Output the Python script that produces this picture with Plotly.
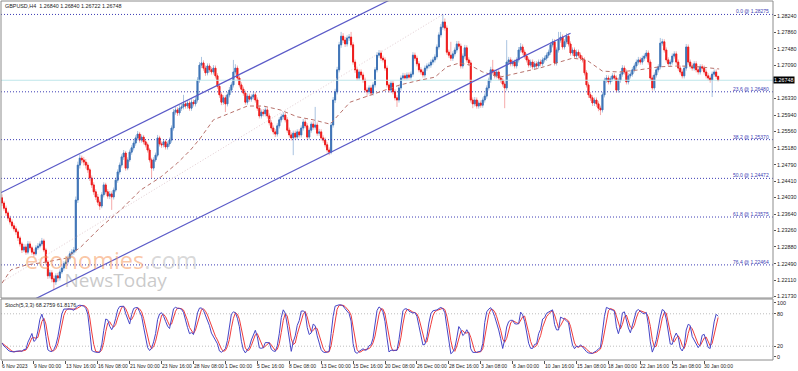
import plotly.graph_objects as go
import pandas as pd

header_text = "GBPUSD,H4  1.26840 1.26840 1.26722 1.26748"
stoch_text = "Stoch(5,3,3) 68.2759 61.8176"

date_labels = ["6 Nov 2023", "9 Nov 00:00", "13 Nov 16:00", "16 Nov 08:00", "21 Nov 00:00",
               "23 Nov 16:00", "28 Nov 08:00", "1 Dec 00:00", "5 Dec 16:00", "8 Dec 08:00",
               "13 Dec 00:00", "15 Dec 16:00", "20 Dec 08:00", "26 Dec 00:00", "28 Dec 16:00",
               "3 Jan 08:00", "8 Jan 00:00", "10 Jan 16:00", "15 Jan 08:00", "18 Jan 00:00",
               "22 Jan 16:00", "25 Jan 08:00", "30 Jan 00:00"]
date_label_bars = [0, 16, 32, 48, 64, 80, 96, 112, 128, 144, 160, 176, 192, 208, 224,
                   240, 256, 272, 288, 304, 320, 336, 352]

first_open = 1.2402
closes = [
    1.2390, 1.2378, 1.2367, 1.2355, 1.2346, 1.2337, 1.2330, 1.2323, 1.2309, 1.2295,
    1.2281, 1.2288, 1.2276, 1.2295, 1.2286, 1.2276, 1.2272, 1.2286, 1.2290, 1.2295,
    1.2302, 1.2281, 1.2253, 1.2221, 1.2228, 1.2214, 1.2207, 1.2221, 1.2216, 1.2230,
    1.2239, 1.2249, 1.2253, 1.2262, 1.2272, 1.2276, 1.2281, 1.2397, 1.2478, 1.2494,
    1.2490, 1.2485, 1.2478, 1.2467, 1.2448, 1.2432, 1.2416, 1.2404, 1.2392, 1.2383,
    1.2409, 1.2432, 1.2416, 1.2406, 1.2411, 1.2404, 1.2420, 1.2443, 1.2462, 1.2478,
    1.2497, 1.2506, 1.2471, 1.2490, 1.2508, 1.2518, 1.2529, 1.2541, 1.2550, 1.2536,
    1.2543, 1.2532, 1.2525, 1.2513, 1.2490, 1.2471, 1.2490, 1.2501, 1.2541, 1.2527,
    1.2525, 1.2532, 1.2520, 1.2527, 1.2536, 1.2564, 1.2601, 1.2606, 1.2599, 1.2610,
    1.2613, 1.2620, 1.2615, 1.2622, 1.2610, 1.2624, 1.2620, 1.2629, 1.2675, 1.2710,
    1.2715, 1.2703, 1.2692, 1.2708, 1.2699, 1.2694, 1.2703, 1.2685, 1.2661, 1.2641,
    1.2624, 1.2634, 1.2620, 1.2641, 1.2652, 1.2664, 1.2694, 1.2703, 1.2680, 1.2664,
    1.2654, 1.2645, 1.2624, 1.2638, 1.2631, 1.2636, 1.2641, 1.2629, 1.2610, 1.2592,
    1.2601, 1.2597, 1.2606, 1.2592, 1.2576, 1.2564, 1.2555, 1.2550, 1.2569, 1.2583,
    1.2590, 1.2594, 1.2583, 1.2559, 1.2548, 1.2541, 1.2552, 1.2543, 1.2555, 1.2548,
    1.2564, 1.2578, 1.2569, 1.2543, 1.2559, 1.2573, 1.2566, 1.2571, 1.2552, 1.2555,
    1.2541, 1.2536, 1.2525, 1.2513, 1.2508, 1.2571, 1.2629, 1.2648, 1.2699, 1.2757,
    1.2777, 1.2768, 1.2759, 1.2773, 1.2775, 1.2757, 1.2717, 1.2699, 1.2680, 1.2694,
    1.2687, 1.2675, 1.2652, 1.2648, 1.2657, 1.2645, 1.2664, 1.2699, 1.2733, 1.2738,
    1.2726, 1.2722, 1.2703, 1.2664, 1.2652, 1.2668, 1.2648, 1.2634, 1.2629, 1.2657,
    1.2680, 1.2685, 1.2680, 1.2687, 1.2682, 1.2689, 1.2733, 1.2726, 1.2713, 1.2699,
    1.2694, 1.2687, 1.2703, 1.2708, 1.2710, 1.2717, 1.2722, 1.2729, 1.2752, 1.2780,
    1.2798, 1.2810, 1.2796, 1.2740, 1.2733, 1.2726, 1.2736, 1.2745, 1.2759, 1.2754,
    1.2708, 1.2731, 1.2750, 1.2722, 1.2715, 1.2629, 1.2620, 1.2629, 1.2615, 1.2622,
    1.2617, 1.2629, 1.2638, 1.2657, 1.2675, 1.2699, 1.2694, 1.2685, 1.2694, 1.2680,
    1.2675, 1.2666, 1.2657, 1.2717, 1.2722, 1.2713, 1.2717, 1.2708, 1.2722, 1.2745,
    1.2752, 1.2740, 1.2731, 1.2722, 1.2710, 1.2717, 1.2706, 1.2713, 1.2708, 1.2717,
    1.2713, 1.2722, 1.2726, 1.2733, 1.2740, 1.2757, 1.2764, 1.2715, 1.2745, 1.2768,
    1.2775, 1.2752, 1.2764, 1.2777, 1.2759, 1.2738, 1.2745, 1.2731, 1.2740, 1.2733,
    1.2726, 1.2722, 1.2692, 1.2664, 1.2641, 1.2634, 1.2622, 1.2629, 1.2620, 1.2610,
    1.2606, 1.2641, 1.2675, 1.2680, 1.2671, 1.2678, 1.2685, 1.2680, 1.2652, 1.2675,
    1.2689, 1.2703, 1.2694, 1.2671, 1.2685, 1.2689, 1.2699, 1.2708, 1.2717, 1.2722,
    1.2717, 1.2726, 1.2731, 1.2738, 1.2717, 1.2680, 1.2657, 1.2687, 1.2699, 1.2706,
    1.2761, 1.2764, 1.2745, 1.2722, 1.2713, 1.2717, 1.2731, 1.2736, 1.2717, 1.2703,
    1.2694, 1.2685, 1.2703, 1.2752, 1.2717, 1.2708, 1.2703, 1.2713, 1.2699, 1.2694,
    1.2706, 1.2703, 1.2694, 1.2685, 1.2680, 1.2675, 1.2689, 1.2694, 1.2684, 1.26748,
]
highs = [
    1.2410, 1.2395, 1.2384, 1.2372, 1.2361, 1.2352, 1.2343, 1.2336, 1.2328, 1.2314,
    1.2300, 1.2295, 1.2294, 1.2302, 1.2301, 1.2291, 1.2283, 1.2292, 1.2297, 1.2301,
    1.2309, 1.2307, 1.2286, 1.2258, 1.2235, 1.2234, 1.2222, 1.2227, 1.2228, 1.2236,
    1.2245, 1.2255, 1.2259, 1.2268, 1.2278, 1.2283, 1.2288, 1.2405, 1.2486, 1.2503,
    1.2500, 1.2497, 1.2492, 1.2484, 1.2472, 1.2454, 1.2438, 1.2422, 1.2411, 1.2398,
    1.2415, 1.2438, 1.2437, 1.2422, 1.2418, 1.2417, 1.2426, 1.2449, 1.2468, 1.2484,
    1.2503, 1.2513, 1.2511, 1.2496, 1.2514, 1.2524, 1.2535, 1.2547, 1.2557, 1.2555,
    1.2549, 1.2548, 1.2538, 1.2530, 1.2518, 1.2495, 1.2496, 1.2507, 1.2548, 1.2546,
    1.2533, 1.2538, 1.2537, 1.2533, 1.2542, 1.2570, 1.2608, 1.2613, 1.2612, 1.2617,
    1.2620, 1.2641, 1.2626, 1.2629, 1.2628, 1.2631, 1.2630, 1.2636, 1.2682, 1.2717,
    1.2729, 1.2721, 1.2709, 1.2714, 1.2714, 1.2705, 1.2710, 1.2709, 1.2691, 1.2667,
    1.2647, 1.2640, 1.2640, 1.2647, 1.2659, 1.2670, 1.2722, 1.2712, 1.2709, 1.2686,
    1.2670, 1.2660, 1.2651, 1.2644, 1.2644, 1.2642, 1.2648, 1.2647, 1.2635, 1.2616,
    1.2607, 1.2608, 1.2612, 1.2612, 1.2598, 1.2582, 1.2570, 1.2561, 1.2575, 1.2589,
    1.2597, 1.2601, 1.2600, 1.2589, 1.2565, 1.2554, 1.2558, 1.2558, 1.2561, 1.2561,
    1.2570, 1.2585, 1.2584, 1.2575, 1.2565, 1.2579, 1.2580, 1.2613, 1.2577, 1.2562,
    1.2561, 1.2547, 1.2542, 1.2531, 1.2519, 1.2578, 1.2636, 1.2655, 1.2706, 1.2764,
    1.2787, 1.2784, 1.2775, 1.2779, 1.2782, 1.2787, 1.2763, 1.2723, 1.2705, 1.2700,
    1.2700, 1.2693, 1.2681, 1.2658, 1.2663, 1.2663, 1.2670, 1.2705, 1.2740, 1.2745,
    1.2744, 1.2732, 1.2728, 1.2709, 1.2670, 1.2674, 1.2674, 1.2654, 1.2640, 1.2663,
    1.2686, 1.2692, 1.2691, 1.2693, 1.2693, 1.2695, 1.2740, 1.2739, 1.2732, 1.2719,
    1.2705, 1.2700, 1.2709, 1.2714, 1.2716, 1.2723, 1.2728, 1.2735, 1.2758, 1.2786,
    1.2805, 1.28275, 1.2818, 1.2802, 1.2746, 1.2764, 1.2742, 1.2751, 1.2766, 1.2766,
    1.2760, 1.2737, 1.2757, 1.2756, 1.2728, 1.2721, 1.2635, 1.2636, 1.2635, 1.2628,
    1.2628, 1.2635, 1.2644, 1.2663, 1.2681, 1.2706, 1.2722, 1.2700, 1.2700, 1.2700,
    1.2686, 1.2681, 1.2672, 1.2768, 1.2729, 1.2728, 1.2723, 1.2723, 1.2728, 1.2752,
    1.2761, 1.2758, 1.2746, 1.2737, 1.2728, 1.2723, 1.2723, 1.2719, 1.2719, 1.2723,
    1.2723, 1.2728, 1.2732, 1.2739, 1.2746, 1.2763, 1.2771, 1.2770, 1.2751, 1.2787,
    1.2787, 1.2781, 1.2770, 1.2784, 1.2783, 1.2765, 1.2751, 1.2751, 1.2746, 1.2746,
    1.2739, 1.2732, 1.2728, 1.2698, 1.2670, 1.2647, 1.2640, 1.2635, 1.2635, 1.2626,
    1.2616, 1.2647, 1.2681, 1.2687, 1.2686, 1.2684, 1.2691, 1.2691, 1.2686, 1.2681,
    1.2695, 1.2710, 1.2709, 1.2700, 1.2691, 1.2695, 1.2705, 1.2714, 1.2723, 1.2729,
    1.2728, 1.2732, 1.2737, 1.2745, 1.2744, 1.2723, 1.2686, 1.2693, 1.2705, 1.2712,
    1.2773, 1.2771, 1.2770, 1.2751, 1.2728, 1.2723, 1.2737, 1.2742, 1.2742, 1.2723,
    1.2709, 1.2700, 1.2709, 1.2759, 1.2758, 1.2723, 1.2714, 1.2719, 1.2719, 1.2705,
    1.2712, 1.2712, 1.2709, 1.2700, 1.2691, 1.2686, 1.2695, 1.2700, 1.2700, 1.26840,
]
lows = [
    1.2383, 1.2372, 1.2360, 1.2349, 1.2340, 1.2331, 1.2324, 1.2316, 1.2302, 1.2289,
    1.2274, 1.2276, 1.2270, 1.2271, 1.2280, 1.2270, 1.2265, 1.2268, 1.2281, 1.2285,
    1.2290, 1.2276, 1.2247, 1.2214, 1.2215, 1.2206, 1.2188, 1.2200, 1.2208, 1.2210,
    1.2225, 1.2233, 1.2243, 1.2248, 1.2257, 1.2266, 1.2270, 1.2275, 1.2390, 1.2470,
    1.2482, 1.2477, 1.2470, 1.2460, 1.2441, 1.2425, 1.2409, 1.2397, 1.2385, 1.2374,
    1.2378, 1.2403, 1.2410, 1.2400, 1.2399, 1.2374, 1.2398, 1.2415, 1.2437, 1.2456,
    1.2472, 1.2490, 1.2465, 1.2466, 1.2485, 1.2502, 1.2512, 1.2523, 1.2535, 1.2530,
    1.2530, 1.2526, 1.2519, 1.2507, 1.2484, 1.2448, 1.2465, 1.2485, 1.2496, 1.2521,
    1.2518, 1.2519, 1.2514, 1.2514, 1.2521, 1.2530, 1.2558, 1.2595, 1.2592, 1.2593,
    1.2604, 1.2607, 1.2609, 1.2609, 1.2604, 1.2604, 1.2614, 1.2614, 1.2623, 1.2669,
    1.2703, 1.2697, 1.2685, 1.2686, 1.2693, 1.2688, 1.2688, 1.2679, 1.2655, 1.2634,
    1.2617, 1.2618, 1.2601, 1.2614, 1.2635, 1.2646, 1.2658, 1.2688, 1.2674, 1.2658,
    1.2648, 1.2639, 1.2618, 1.2618, 1.2625, 1.2625, 1.2630, 1.2623, 1.2604, 1.2586,
    1.2586, 1.2591, 1.2591, 1.2586, 1.2570, 1.2558, 1.2549, 1.2543, 1.2544, 1.2563,
    1.2577, 1.2584, 1.2577, 1.2553, 1.2542, 1.2535, 1.2501, 1.2537, 1.2537, 1.2542,
    1.2542, 1.2558, 1.2563, 1.2537, 1.2537, 1.2553, 1.2560, 1.2560, 1.2546, 1.2546,
    1.2535, 1.2530, 1.2519, 1.2507, 1.2501, 1.2503, 1.2565, 1.2622, 1.2642, 1.2693,
    1.2750, 1.2761, 1.2752, 1.2753, 1.2766, 1.2751, 1.2711, 1.2692, 1.2674, 1.2674,
    1.2681, 1.2669, 1.2646, 1.2636, 1.2642, 1.2639, 1.2639, 1.2658, 1.2693, 1.2727,
    1.2720, 1.2716, 1.2697, 1.2658, 1.2646, 1.2646, 1.2642, 1.2628, 1.2613, 1.2623,
    1.2651, 1.2674, 1.2674, 1.2674, 1.2676, 1.2676, 1.2683, 1.2720, 1.2707, 1.2693,
    1.2688, 1.2681, 1.2681, 1.2697, 1.2702, 1.2704, 1.2711, 1.2716, 1.2723, 1.2746,
    1.2774, 1.2792, 1.2790, 1.2734, 1.2727, 1.2720, 1.2720, 1.2730, 1.2739, 1.2748,
    1.2702, 1.2702, 1.2725, 1.2716, 1.2709, 1.2623, 1.2610, 1.2614, 1.2609, 1.2609,
    1.2611, 1.2611, 1.2623, 1.2632, 1.2651, 1.2669, 1.2688, 1.2679, 1.2679, 1.2674,
    1.2669, 1.2660, 1.2610, 1.2651, 1.2711, 1.2707, 1.2707, 1.2702, 1.2702, 1.2716,
    1.2739, 1.2734, 1.2725, 1.2716, 1.2704, 1.2704, 1.2700, 1.2700, 1.2702, 1.2702,
    1.2707, 1.2707, 1.2716, 1.2720, 1.2727, 1.2734, 1.2751, 1.2709, 1.2709, 1.2739,
    1.2762, 1.2746, 1.2746, 1.2758, 1.2753, 1.2732, 1.2732, 1.2725, 1.2725, 1.2727,
    1.2720, 1.2716, 1.2686, 1.2658, 1.2634, 1.2627, 1.2615, 1.2615, 1.2613, 1.2603,
    1.2594, 1.2600, 1.2635, 1.2669, 1.2665, 1.2665, 1.2672, 1.2674, 1.2646, 1.2646,
    1.2669, 1.2683, 1.2688, 1.2665, 1.2665, 1.2679, 1.2683, 1.2693, 1.2702, 1.2711,
    1.2711, 1.2711, 1.2720, 1.2725, 1.2711, 1.2674, 1.2651, 1.2651, 1.2681, 1.2693,
    1.2700, 1.2755, 1.2739, 1.2716, 1.2707, 1.2707, 1.2711, 1.2725, 1.2711, 1.2697,
    1.2688, 1.2679, 1.2679, 1.2697, 1.2711, 1.2702, 1.2697, 1.2697, 1.2693, 1.2688,
    1.2688, 1.2697, 1.2688, 1.2679, 1.2674, 1.2669, 1.2636, 1.2683, 1.2678, 1.26722,
]
assert len(closes) == len(highs) == len(lows) == 360
opens = [first_open] + closes[:-1]
bars = list(range(len(closes)))

# moving average (red dashed): bar index, price
ma_bars = [0, 4.5, 12, 22, 32, 39.5, 49.5, 59.5, 69.5, 79.5, 88, 94.5, 99.5, 106, 114.5,
           123, 131, 139.5, 148, 156, 164.5, 169.5, 174.5, 182, 189.5, 199.5, 209.5, 217,
           223, 229.5, 234.5, 241, 249.5, 259.5, 269.5, 278, 286, 293, 301, 309.5, 319.5,
           329.5, 339.5, 349.5, 359.5]
ma_vals = [1.2204, 1.2235, 1.2246, 1.2253, 1.2262, 1.2288, 1.2334, 1.2374, 1.2420, 1.2450,
           1.2483, 1.2513, 1.2541, 1.2583, 1.2599, 1.2615, 1.2615, 1.2606, 1.2590, 1.2583,
           1.2573, 1.2599, 1.2624, 1.2636, 1.2648, 1.2664, 1.2675, 1.2682, 1.2706, 1.2715,
           1.2710, 1.2694, 1.2682, 1.2692, 1.2703, 1.2715, 1.2726, 1.2722, 1.2696, 1.2694,
           1.2699, 1.2706, 1.2708, 1.2706, 1.2701]

# channel lines (bar index, price)
channel_bars = [-1, 285]
channel_lower = [1.2127, 1.2784]
channel_upper = [1.2413, 1.3069]

# fibonacci retracement
fib_levels = [0.0, 23.6, 38.2, 50.0, 61.8, 76.4]
fib_prices = [1.28275, 1.26480, 1.25370, 1.24472, 1.23575, 1.22464]
fib_trend_bars = [-1, 221]
fib_trend_prices = [1.2204, 1.28275]

current_price = 1.26748

price_ticks = [1.28240, 1.27860, 1.27480, 1.27090, 1.26330, 1.25940, 1.25560, 1.25180,
               1.24790, 1.24410, 1.24030, 1.23640, 1.23260, 1.22880, 1.22490, 1.22110, 1.21730]
stoch_ticks = [0, 20, 80, 100]

# Stochastic (5,3,3) computed from the price arrays
df = pd.DataFrame({"h": highs, "l": lows, "c": closes})
ll = df["l"].rolling(5, min_periods=1).min()
hh = df["h"].rolling(5, min_periods=1).max()
num = (df["c"] - ll).rolling(3, min_periods=1).sum()
den = (hh - ll).rolling(3, min_periods=1).sum()
stoch_k = (100 * num / den).tolist()
stoch_d = pd.Series(stoch_k).rolling(3, min_periods=1).mean().tolist()

XR = [-0.5, 386.5]
fig = go.Figure()

fig.add_trace(go.Scatter(x=XR, y=[current_price, current_price], mode="lines",
                         line=dict(color="#bfe6ea", width=1), xaxis="x", yaxis="y"))
for lv, pr in zip(fib_levels, fib_prices):
    fig.add_trace(go.Scatter(x=XR, y=[pr, pr], mode="lines",
                             line=dict(color="#3c3cb4", width=1, dash="1px,2px"),
                             xaxis="x", yaxis="y"))
fig.add_trace(go.Scatter(x=fib_trend_bars, y=fib_trend_prices, mode="lines",
                         line=dict(color="#e2cdd2", width=1, dash="1px,2px"),
                         xaxis="x", yaxis="y"))

# wicks (pale)
fig.add_trace(go.Candlestick(x=bars, open=opens, high=highs, low=lows, close=closes,
                             increasing=dict(line=dict(color="#a9c3e0", width=1), fillcolor="#a9c3e0"),
                             decreasing=dict(line=dict(color="#f5aaaa", width=1), fillcolor="#f5aaaa"),
                             whiskerwidth=0, xaxis="x", yaxis="y"))
# bodies (strong)
body_hi = [max(o, c) for o, c in zip(opens, closes)]
body_lo = [min(o, c) for o, c in zip(opens, closes)]
fig.add_trace(go.Candlestick(x=bars, open=opens, high=body_hi, low=body_lo, close=closes,
                             increasing=dict(line=dict(color="#3f74b6", width=1), fillcolor="#3f74b6"),
                             decreasing=dict(line=dict(color="#ee1c1c", width=1), fillcolor="#ee1c1c"),
                             whiskerwidth=0, xaxis="x", yaxis="y"))

fig.add_trace(go.Scatter(x=ma_bars, y=ma_vals, mode="lines",
                         line=dict(color="#b8726c", width=1, dash="4px,3px"),
                         xaxis="x", yaxis="y"))
fig.add_trace(go.Scatter(x=channel_bars, y=channel_lower, mode="lines",
                         line=dict(color="#5b5bc8", width=1.2), xaxis="x", yaxis="y"))
fig.add_trace(go.Scatter(x=channel_bars, y=channel_upper, mode="lines",
                         line=dict(color="#5b5bc8", width=1.2), xaxis="x", yaxis="y"))

# stochastic pane
for lvl in [20, 80]:
    fig.add_trace(go.Scatter(x=XR, y=[lvl, lvl], mode="lines",
                             line=dict(color="#bdbdbd", width=1, dash="1px,2px"),
                             xaxis="x2", yaxis="y2"))
fig.add_trace(go.Scatter(x=bars, y=stoch_d, mode="lines",
                         line=dict(color="#f03c3c", width=1), xaxis="x2", yaxis="y2"))
fig.add_trace(go.Scatter(x=bars, y=stoch_k, mode="lines",
                         line=dict(color="#4646c8", width=1), xaxis="x2", yaxis="y2"))

tick_font = dict(family="Liberation Sans", size=5.4, color="#222222")
fig.update_layout(
    width=798, height=371, margin=dict(l=1, r=23, t=1, b=11),
    paper_bgcolor="white", plot_bgcolor="white", showlegend=False, hovermode=False,
    xaxis=dict(domain=[0, 1], anchor="y", range=XR, showticklabels=False, showgrid=False,
               zeroline=False, rangeslider=dict(visible=False), ticks=""),
    yaxis=dict(domain=[0.1727, 1], anchor="x", range=[1.21696, 1.28587], side="right",
               tickvals=price_ticks, ticktext=["%.5f" % v for v in price_ticks],
               ticks="outside", ticklen=2, tickcolor="#555555", tickfont=tick_font,
               showgrid=False, zeroline=False),
    xaxis2=dict(domain=[0, 1], anchor="y2", range=XR, matches="x", tickvals=date_label_bars,
                ticktext=[""] * len(date_label_bars), ticks="outside", ticklen=3,
                tickcolor="#555555", showgrid=False, zeroline=False),
    yaxis2=dict(domain=[0, 0.1699], anchor="x2", range=[-5.6, 107.4], side="right",
                tickvals=stoch_ticks, ticktext=[str(v) for v in stoch_ticks],
                ticks="outside", ticklen=2, tickcolor="#555555", tickfont=tick_font,
                showgrid=False, zeroline=False),
)

shapes = [
    dict(type="rect", xref="paper", yref="paper", x0=0, x1=1, y0=0.1727, y1=1,
         line=dict(color="#8c8c8c", width=1)),
    dict(type="rect", xref="paper", yref="paper", x0=0, x1=1, y0=0, y1=0.1699,
         line=dict(color="#8c8c8c", width=1)),
]
fig.update_layout(shapes=shapes)

date_font = dict(family="Liberation Sans", size=5, color="#222222")
ann = []
for b, t in zip(date_label_bars, date_labels):
    ann.append(dict(x=b, xref="x2", y=0, yref="paper", yanchor="top", xanchor="left",
                    yshift=-1, xshift=-2, text=t, showarrow=False, font=date_font))
for lv, pr in zip(fib_levels, fib_prices):
    ann.append(dict(x=385.5, xref="x", y=pr, yref="y", yanchor="bottom", xanchor="right",
                    yshift=-2, text="%.1f @ %.5f" % (lv, pr), showarrow=False,
                    font=dict(family="Liberation Sans", size=5, color="#3c3cb4")))
ann.append(dict(x=1, xref="paper", y=current_price, yref="y", xanchor="left", yanchor="middle",
                xshift=0, text="%.5f" % current_price, showarrow=False, bgcolor="black",
                borderpad=0, font=dict(family="Liberation Sans", size=5.4, color="white")))
ann.append(dict(x=0.003, xref="paper", y=0.985, yref="paper", xanchor="left", yanchor="middle",
                text=header_text, showarrow=False, font=tick_font))
ann.append(dict(x=0.003, xref="paper", y=0.152, yref="paper", xanchor="left", yanchor="middle",
                text=stoch_text, showarrow=False, font=tick_font))
ann.append(dict(x=0.029, xref="paper", y=0.256, yref="paper", xanchor="left", yanchor="middle",
                align="left",
                text="<span style='font-size:23.5px;color:rgba(246,150,90,0.55)'>economies</span>"
                     "<span style='font-size:23.5px;color:rgba(170,170,170,0.45)'>.com</span><br>"
                     "<span style='font-size:19px;color:rgba(150,150,150,0.5)'>"
                     "&nbsp;&nbsp;&nbsp;&nbsp;&nbsp;&nbsp;&nbsp;&nbsp;NewsToday</span>",
                showarrow=False, font=dict(family="Open Sans", size=14)))
fig.update_layout(annotations=ann)

fig.write_html("out.html", config={"displayModeBar": False},
               post_script="document.body.style.margin='0px';document.body.style.padding='0px';")
